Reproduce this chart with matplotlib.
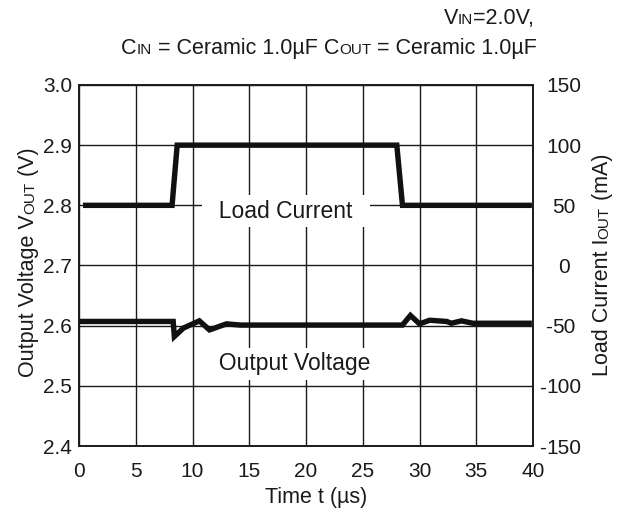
import matplotlib
matplotlib.use('Agg')
import matplotlib.pyplot as plt
from matplotlib.transforms import blended_transform_factory

plt.rcParams['font.family'] = ['Liberation Sans', 'DejaVu Sans']

# load current step (mA, right axis)
t_cur = [0.35, 8.2, 8.65, 28.0, 28.5, 39.9]
i_cur = [50, 50, 100, 100, 50, 50]

# output voltage (V, left axis)
t_vout = [0.0, 8.3, 8.4, 9.2, 10.6, 11.5, 13.0, 14.2, 28.5, 29.2, 30.0,
          30.9, 32.4, 32.8, 33.7, 34.7, 39.9]
v_out = [2.607, 2.607, 2.582, 2.596, 2.608, 2.593, 2.603, 2.601, 2.601,
         2.617, 2.603, 2.609, 2.607, 2.604, 2.608, 2.604, 2.604]

x_ticks = [0, 5, 10, 15, 20, 25, 30, 35, 40]
v_ticks = [2.4, 2.5, 2.6, 2.7, 2.8, 2.9, 3.0]
i_ticks = [-150, -100, -50, 0, 50, 100, 150]

INK = '#1a1a1a'
W, H = 622, 512
fig = plt.figure(figsize=(W / 100, H / 100), dpi=100)
ax = fig.add_axes([79 / W, 1 - 446 / H, (533 - 79) / W, (446 - 85) / H])
ax2 = ax.twinx()

ax.set_xlim(0, 40)
ax.set_ylim(2.4, 3.0)
ax2.set_ylim(-150, 150)
ax.set_xticks(x_ticks)
ax.set_xticklabels([str(t) for t in x_ticks])
ax.set_yticks(v_ticks)
ax.set_yticklabels(['%.1f' % v for v in v_ticks])
ax2.set_yticks(i_ticks)
ax.grid(True, color=INK, lw=1.0)
ax.tick_params(length=0, labelsize=15, colors=INK)
ax.tick_params(axis='x', pad=11.5)
ax.tick_params(axis='y', pad=5)
ax2.tick_params(length=0, labelright=False)
for a in (ax, ax2):
    for s in a.spines.values():
        s.set_color(INK)
        s.set_linewidth(1.2)

# right tick labels: digits centred, minus sign hanging to the left
trans = blended_transform_factory(ax2.transAxes, ax2.transData)
for i in i_ticks:
    num = ax2.text(1.068, i, str(abs(i)), transform=trans, fontsize=15,
                   ha='center', va='center_baseline', color=INK)
    if i < 0:
        ax2.annotate('-', xy=(0, 0.5), xycoords=num, fontsize=15,
                     ha='right', va='center', color=INK)

ax.plot(t_vout, v_out, color='#111111', lw=3.9, solid_joinstyle='miter',
        solid_capstyle='butt', zorder=5)
ax2.plot(t_cur, i_cur, color='#111111', lw=3.9, solid_joinstyle='miter',
         solid_capstyle='butt', zorder=5)

ax.set_xlabel('Time t (\u00b5s)', fontsize=15.5, color=INK)
ax.xaxis.set_label_coords(0.522, -0.1136)

box = dict(facecolor='white', edgecolor='none', boxstyle='square,pad=0.2')
ax.text(18.24, 2.790, '  Load Current  ', fontsize=16.5, ha='center', va='center',
        color=INK, bbox=box, zorder=4)
ax.text(19.03, 2.5367, '  Output Voltage  ', fontsize=16.5, ha='center', va='center',
        color=INK, bbox=box, zorder=4)

renderer = fig.canvas.get_renderer()


def rich(x, y, parts, rotation=0, align='left'):
    # pieces of text of different sizes on one baseline, in pixel coords
    items = []
    total = 0
    for s, size in parts:
        t = fig.text(0, 0, s, fontsize=size, rotation=rotation, rotation_mode='anchor',
                     ha='left', va='baseline', color=INK)
        ext = t.get_window_extent(renderer)
        w = ext.width if rotation == 0 else ext.height
        items.append((t, w))
        total += w
    pos = {'left': 0, 'center': -total / 2, 'right': -total}[align]
    pos += x if rotation == 0 else y
    for t, w in items:
        if rotation == 0:
            t.set_position((pos / W, y / H))
        else:
            t.set_position((x / W, pos / H))
        pos += w


big, small = 15.5, 11
rich(534, H - 24, [('V', big), ('IN', small), ('=2.0V,', big)], align='right')
rich(537, H - 54, [('C', big), ('IN', small), (' = Ceramic 1.0\u00b5F C', big),
                   ('OUT', small), (' = Ceramic 1.0\u00b5F', big)], align='right')
rich(34, H - 262, [('Output Voltage V', big), ('OUT', small), (' (V)', big)],
     rotation=90, align='center')
rich(608, H - 265, [('Load Current I', big), ('OUT', small), (' (mA)', big)],
     rotation=90, align='center')

fig.savefig('out.png', dpi=100)
